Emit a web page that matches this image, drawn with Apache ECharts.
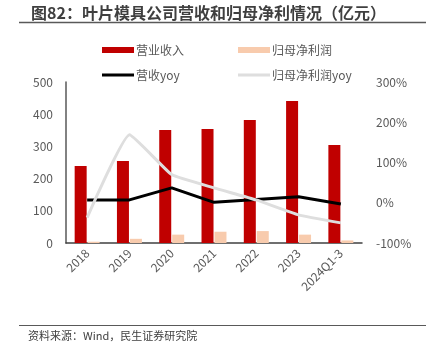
<!DOCTYPE html>
<html><head><meta charset="utf-8">
<script src="https://cdn.jsdelivr.net/npm/echarts@6/dist/echarts.min.js"></script>
<style>html,body{margin:0;padding:0;background:#fff}#c{width:436px;height:359px}</style>
</head><body><div id="c"></div>
<script>
const categories = ['2018','2019','2020','2021','2022','2023','2024Q1-3'];
const revenue = [239, 255, 351, 354, 382, 441, 304];
const netProfit = [4, 13, 26, 35, 37, 26, 8];
const revenueYoy = [7, 7, 37, 1, 8, 15, -3];
const profitYoy = [-37, 169, 70, 37, 7, -30, -50];
const leftTicks = [0, 500, 100];
const rightTicks = [-100, 300, 100];

const font = '"Noto Sans CJK SC", "Microsoft YaHei", sans-serif';
const lineIcon = 'path://M0,0h0.01v0.01h-0.01zM0,5.99h0.01v0.01h-0.01zM0,1.6h32v2.8h-32z';
const chart = echarts.init(document.getElementById('c'));
chart.setOption({
  animation: false,
  textStyle: {fontFamily: font},
  title: {
    text: '图82：叶片模具公司营收和归母净利情况（亿元）',
    left: 26, top: 0,
    textStyle: {fontSize: 16, fontWeight: 'bold', color: '#3f3f3f', fontFamily: font}
  },
  graphic: [
    {type: 'line', shape: {x1: 19, y1: 22.5, x2: 426, y2: 22.5}, style: {stroke: '#595959', lineWidth: 1.5}},
    {type: 'line', shape: {x1: 19, y1: 325.5, x2: 426, y2: 325.5}, style: {stroke: '#595959', lineWidth: 1.2}},
    {type: 'text', left: 28, top: 330, style: {text: '资料来源：Wind，民生证券研究院', fill: '#404040', font: '11px ' + font}}
  ],
  legend: [
    {data: [{name: '营业收入', icon: 'rect'}, {name: '营收yoy', icon: lineIcon}], orient: 'vertical', left: 97, top: 39, itemWidth: 32, itemHeight: 6, itemGap: 13,
     textStyle: {fontSize: 12, color: '#595959', padding: [0,0,0,-3]}},
    {data: [{name: '归母净利润', icon: 'rect'}, {name: '归母净利润yoy', icon: lineIcon}], orient: 'vertical', left: 233, top: 39, itemWidth: 32, itemHeight: 6, itemGap: 13,
     textStyle: {fontSize: 12, color: '#595959', padding: [0,0,0,-3]}}
  ],
  grid: {left: 66, right: 74, top: 82, bottom: 116},
  xAxis: {
    type: 'category', data: categories,
    axisLine: {lineStyle: {color: '#404040', width: 1.5}},
    axisTick: {show: false},
    axisLabel: {rotate: 45, fontSize: 12, color: '#595959', margin: 8, interval: 0}
  },
  yAxis: [
    {type: 'value', min: leftTicks[0], max: leftTicks[1], interval: leftTicks[2],
     axisLine: {show: true, lineStyle: {color: '#595959', width: 1.5}},
     axisTick: {show: false}, splitLine: {show: false},
     axisLabel: {fontSize: 12, color: '#595959', margin: 13}},
    {type: 'value', min: rightTicks[0], max: rightTicks[1], interval: rightTicks[2],
     axisLine: {show: false}, axisTick: {show: false}, splitLine: {show: false},
     axisLabel: {fontSize: 12, color: '#595959', margin: 14, formatter: '{value}%'}}
  ],
  series: [
    {name: '营业收入', type: 'bar', data: revenue, barWidth: 12, barGap: '8%', itemStyle: {color: '#C00000'}},
    {name: '归母净利润', type: 'bar', data: netProfit, barWidth: 12, itemStyle: {color: '#F8CBAD'}},
    {name: '营收yoy', type: 'line', yAxisIndex: 1, data: revenueYoy, symbol: 'none', lineStyle: {color: '#000', width: 3}, itemStyle: {color: '#000'}},
    {name: '归母净利润yoy', type: 'line', yAxisIndex: 1, data: profitYoy, symbol: 'none', smooth: 0.12, lineStyle: {color: '#DEDEDE', width: 3}, itemStyle: {color: '#DEDEDE'}}
  ]
});
</script></body></html>
